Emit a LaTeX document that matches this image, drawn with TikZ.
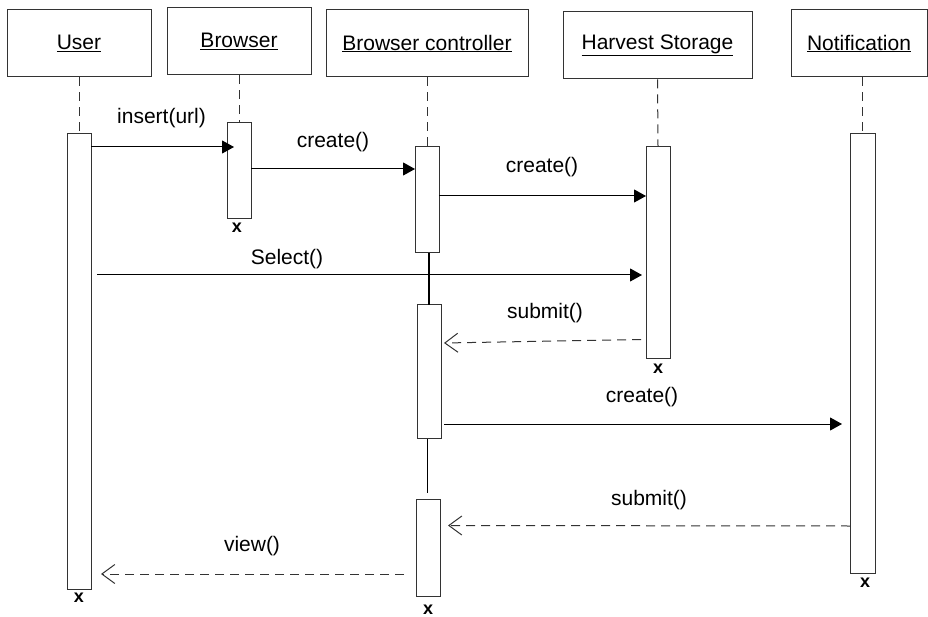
\documentclass[tikz,border=0pt]{standalone}
\usepackage{fontspec}
\setmainfont{Liberation Sans}
\usetikzlibrary{arrows.meta}
\tikzset{
  hbox/.style={draw=black!80, line width=1pt, fill=white, inner sep=0pt, font=\fontsize{21}{25}\selectfont},
  act/.style={draw=black!80, line width=1pt, fill=white, inner sep=0pt, minimum width=24pt},
  life/.style={draw=black!80, line width=1pt, dash pattern=on 9pt off 6pt},
  link/.style={draw=black, line width=1.4pt},
  msg/.style={draw=black, line width=1pt, -{Triangle[length=12pt,width=13pt]}},
  ret/.style={draw=black!80, line width=1pt, dash pattern=on 9pt off 6pt, -{Straight Barb[length=13pt,width=19pt,line width=1pt]}},
  lbl/.style={font=\fontsize{21}{25}\selectfont, inner sep=0pt},
  endx/.style={font=\fontsize{18}{20}\selectfont\bfseries, inner sep=0pt}
}
\begin{document}
\begin{tikzpicture}[x=1pt,y=-1pt]
\useasboundingbox (0,0) rectangle (928,617);
% header boxes
\node[hbox, minimum width=144pt, minimum height=67pt] (user) at (79,43.5) {\underline{User}};
\node[hbox, minimum width=144pt, minimum height=67pt] (browser) at (239,41.5) {\underline{Browser}};
\node[hbox, minimum width=202pt, minimum height=67pt] (bc) at (427,43.5) {\underline{Browser controller}};
\node[hbox, minimum width=189pt, minimum height=67pt] (hs) at (657.5,45.5) {\underline{Harvest Storage}};
\node[hbox, minimum width=136pt, minimum height=67pt] (note) at (859,43.5) {\underline{Notification}};
% activation boxes
\node[act, minimum height=455pt] (uA) at (79,361.5) {};
\node[act, minimum height=96pt] (bA) at (239,171) {};
\node[act, minimum height=106pt] (c1) at (427,200) {};
\node[act, minimum height=133.5pt] (c2) at (429,371.75) {};
\node[act, minimum height=97pt] (c3) at (428,547.5) {};
\node[act, minimum height=211pt] (hA) at (658,252.5) {};
\node[act, minimum width=25pt, minimum height=439pt] (nA) at (862.5,353.5) {};
% lifelines
\draw[life] (user.south) -- (uA.north);
\draw[life] (browser.south) -- (bA.north);
\draw[life] (bc.south) -- (c1.north);
\draw[life] (hs.south) -- (hA.north);
\draw[life] (note.south -| nA.north) -- (nA.north);
% controller links
\coordinate (l1a) at (429,253);
\coordinate (l1b) at (429,305);
\coordinate (l2a) at (427.5,439);
\coordinate (l2b) at (427.5,493);
\draw[link] (l1a) -- (l1b);
\draw[link] (l2a) -- (l2b);
% message end points
\coordinate (m1s) at (91,147);   \coordinate (m1e) at (234,147);
\coordinate (m2s) at (251,169);  \coordinate (m2e) at (415,169);
\coordinate (m3s) at (439,196);  \coordinate (m3e) at (646,196);
\coordinate (m4s) at (97,275);   \coordinate (m4e) at (642,275);
\coordinate (m5s) at (641,339.5);\coordinate (m5e) at (444,343);
\coordinate (m6s) at (444,424);  \coordinate (m6e) at (842,424);
\coordinate (m7s) at (850,526);  \coordinate (m7e) at (448,525.5);
\coordinate (m8s) at (404,574);  \coordinate (m8e) at (101,574);
\draw[msg] (m1s) -- (m1e);
\draw[msg] (m2s) -- (m2e);
\draw[msg] (m3s) -- (m3e);
\draw[msg] (m4s) -- (m4e);
\draw[ret] (m5s) -- (m5e);
\draw[msg] (m6s) -- (m6e);
\draw[ret] (m7s) -- (m7e);
\draw[ret] (m8s) -- (m8e);
% labels
\node[lbl] (t1) at (161.5,118) {insert(url)};
\node[lbl] (t2) at (333,142) {create()};
\node[lbl] (t3) at (542,167) {create()};
\node[lbl] (t4) at (287,259) {Select()};
\node[lbl] (t5) at (545,313) {submit()};
\node[lbl] (t6) at (642,397) {create()};
\node[lbl] (t7) at (649,500) {submit()};
\node[lbl] (t8) at (252,546) {view()};
% destruction marks
\node[endx] (x1) at (237,228) {x};
\node[endx] (x2) at (79,598) {x};
\node[endx] (x3) at (428,610) {x};
\node[endx] (x4) at (658,369) {x};
\node[endx] (x5) at (865,583) {x};
\end{tikzpicture}
\end{document}
